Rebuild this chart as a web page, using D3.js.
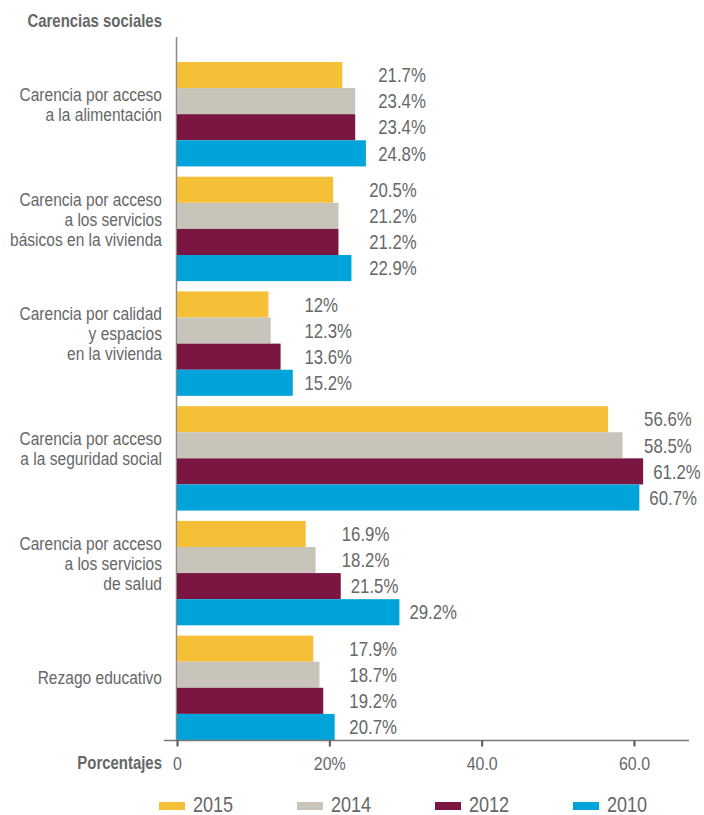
<!DOCTYPE html>
<html lang="es">
<head>
<meta charset="utf-8">
<script src="https://cdn.jsdelivr.net/npm/d3@7"></script>
<style>
  html, body { margin: 0; padding: 0; background: #fff; }
  svg { display: block; }
  text { font-family: "Liberation Sans", Arial, sans-serif; fill: #666767; }
</style>
</head>
<body>
<svg id="chart" width="704" height="815"></svg>
<script>
// Carencias sociales por año (porcentaje de la población)
const categories = [
  ["Carencia por acceso", "a la alimentación"],
  ["Carencia por acceso", "a los servicios", "básicos en la vivienda"],
  ["Carencia por calidad", "y espacios", "en la vivienda"],
  ["Carencia por acceso", "a la seguridad social"],
  ["Carencia por acceso", "a los servicios", "de salud"],
  ["Rezago educativo"]
];
const years = ["2015", "2014", "2012", "2010"];
const values2015 = [21.7, 20.5, 12.0, 56.6, 16.9, 17.9];
const values2014 = [23.4, 21.2, 12.3, 58.5, 18.2, 18.7];
const values2012 = [23.4, 21.2, 13.6, 61.2, 21.5, 19.2];
const values2010 = [24.8, 22.9, 15.2, 60.7, 29.2, 20.7];
const valueLabels2015 = ["21.7%", "20.5%", "12%", "56.6%", "16.9%", "17.9%"];
const valueLabels2014 = ["23.4%", "21.2%", "12.3%", "58.5%", "18.2%", "18.7%"];
const valueLabels2012 = ["23.4%", "21.2%", "13.6%", "61.2%", "21.5%", "19.2%"];
const valueLabels2010 = ["24.8%", "22.9%", "15.2%", "60.7%", "29.2%", "20.7%"];
const xTicks = [0, 20, 40, 60];
const xTickLabels = ["0", "20%", "40.0", "60.0"];
const colors = ["#f5c037", "#c8c4b9", "#7a1642", "#00a3da"];

const series = [values2015, values2014, values2012, values2010];
const seriesLabels = [valueLabels2015, valueLabels2014, valueLabels2012, valueLabels2010];

// horizontal squeeze that gives the sans a condensed look
const SX = 0.84;
const condensed = (sel, xPos) => sel.attr("transform", `scale(${SX},1)`).attr("x", xPos / SX);

const svg = d3.select("#chart");

const x = d3.scaleLinear().domain([0, 60]).range([177, 634]);
const y0 = d3.scaleBand().domain(d3.range(categories.length)).range([62, 740]).paddingInner(0.09).paddingOuter(0);
const y1 = d3.scaleBand().domain(years).range([0, y0.bandwidth()]).padding(0);
const color = d3.scaleOrdinal().domain(years).range(colors);

// título del eje de categorías
svg.append("text")
  .call(condensed, 162)
  .attr("y", 27)
  .attr("text-anchor", "end")
  .attr("font-weight", "bold")
  .attr("font-size", 17.8)
  .text("Carencias sociales");

// eje vertical
svg.append("line")
  .attr("x1", 176.5).attr("x2", 176.5)
  .attr("y1", 37).attr("y2", 740)
  .attr("stroke", "#8a8a8a").attr("stroke-width", 1.5);

// grupos de barras
const groups = svg.append("g").selectAll("g")
  .data(categories.map((c, i) => ({ i, lines: c })))
  .join("g")
  .attr("transform", d => `translate(0,${y0(d.i)})`);

groups.selectAll("rect")
  .data(d => years.map((yr, k) => ({ yr, v: series[k][d.i] })))
  .join("rect")
  .attr("x", x(0))
  .attr("y", d => y1(d.yr))
  .attr("width", d => x(d.v) - x(0))
  .attr("height", y1.bandwidth())
  .attr("fill", d => color(d.yr));

// etiquetas de valor
groups.each(function (d) {
  const minV = d3.min(series, s => s[d.i]);
  d3.select(this).selectAll("text.val")
    .data(years.map((yr, k) => ({ yr, v: series[k][d.i], label: seriesLabels[k][d.i] })))
    .join("text")
    .attr("class", "val")
    .each(function (e) {
      d3.select(this).call(condensed, Math.max(x(e.v) + 10, x(minV) + 36));
    })
    .attr("y", e => y1(e.yr) + y1.bandwidth() / 2)
    .attr("dy", "0.36em")
    .attr("font-size", 20)
    .text(e => e.label);
});

// nombres de las carencias
groups.append("text")
  .attr("text-anchor", "end")
  .attr("font-size", 18.5)
  .attr("transform", `scale(${SX},1)`)
  .each(function (d) {
    const t = d3.select(this);
    const lh = 20;
    const c = y0.bandwidth() / 2 - 10 - (d.lines.length - 1) * lh / 2;
    d.lines.forEach((ln, j) => {
      t.append("tspan")
        .attr("x", 162 / SX)
        .attr("y", c + j * lh)
        .attr("dy", "0.36em")
        .text(ln);
    });
  });

// eje horizontal
const xAxis = svg.append("g").attr("transform", "translate(0,740.5)");
xAxis.append("line")
  .attr("x1", 164).attr("x2", 689)
  .attr("stroke", "#7a7a7a").attr("stroke-width", 1.5);
xAxis.append("g")
  .call(d3.axisBottom(x).tickValues(xTicks).tickFormat((t, i) => xTickLabels[i]).tickSize(6).tickPadding(10))
  .call(a => a.select(".domain").remove())
  .call(a => a.selectAll(".tick line").attr("stroke", "#555").attr("stroke-width", 2))
  .call(a => a.selectAll(".tick text")
    .attr("font-size", 19)
    .attr("fill", "#666767")
    .attr("font-family", "\"Liberation Sans\", Arial, sans-serif")
    .attr("transform", `scale(${SX},1)`));

svg.append("text")
  .call(condensed, 162)
  .attr("y", 769)
  .attr("text-anchor", "end")
  .attr("font-weight", "bold")
  .attr("font-size", 17.8)
  .text("Porcentajes");

// leyenda
const lx = d3.scalePoint().domain(years).range([159, 573]);
const legend = svg.append("g").selectAll("g")
  .data(years)
  .join("g")
  .attr("transform", d => `translate(${lx(d)},0)`);
legend.append("rect")
  .attr("x", 0).attr("y", 802)
  .attr("width", 26).attr("height", 8)
  .attr("fill", d => color(d));
legend.append("text")
  .call(condensed, 34)
  .attr("y", 812)
  .attr("font-size", 21.5)
  .text(d => d);
</script>
</body>
</html>
